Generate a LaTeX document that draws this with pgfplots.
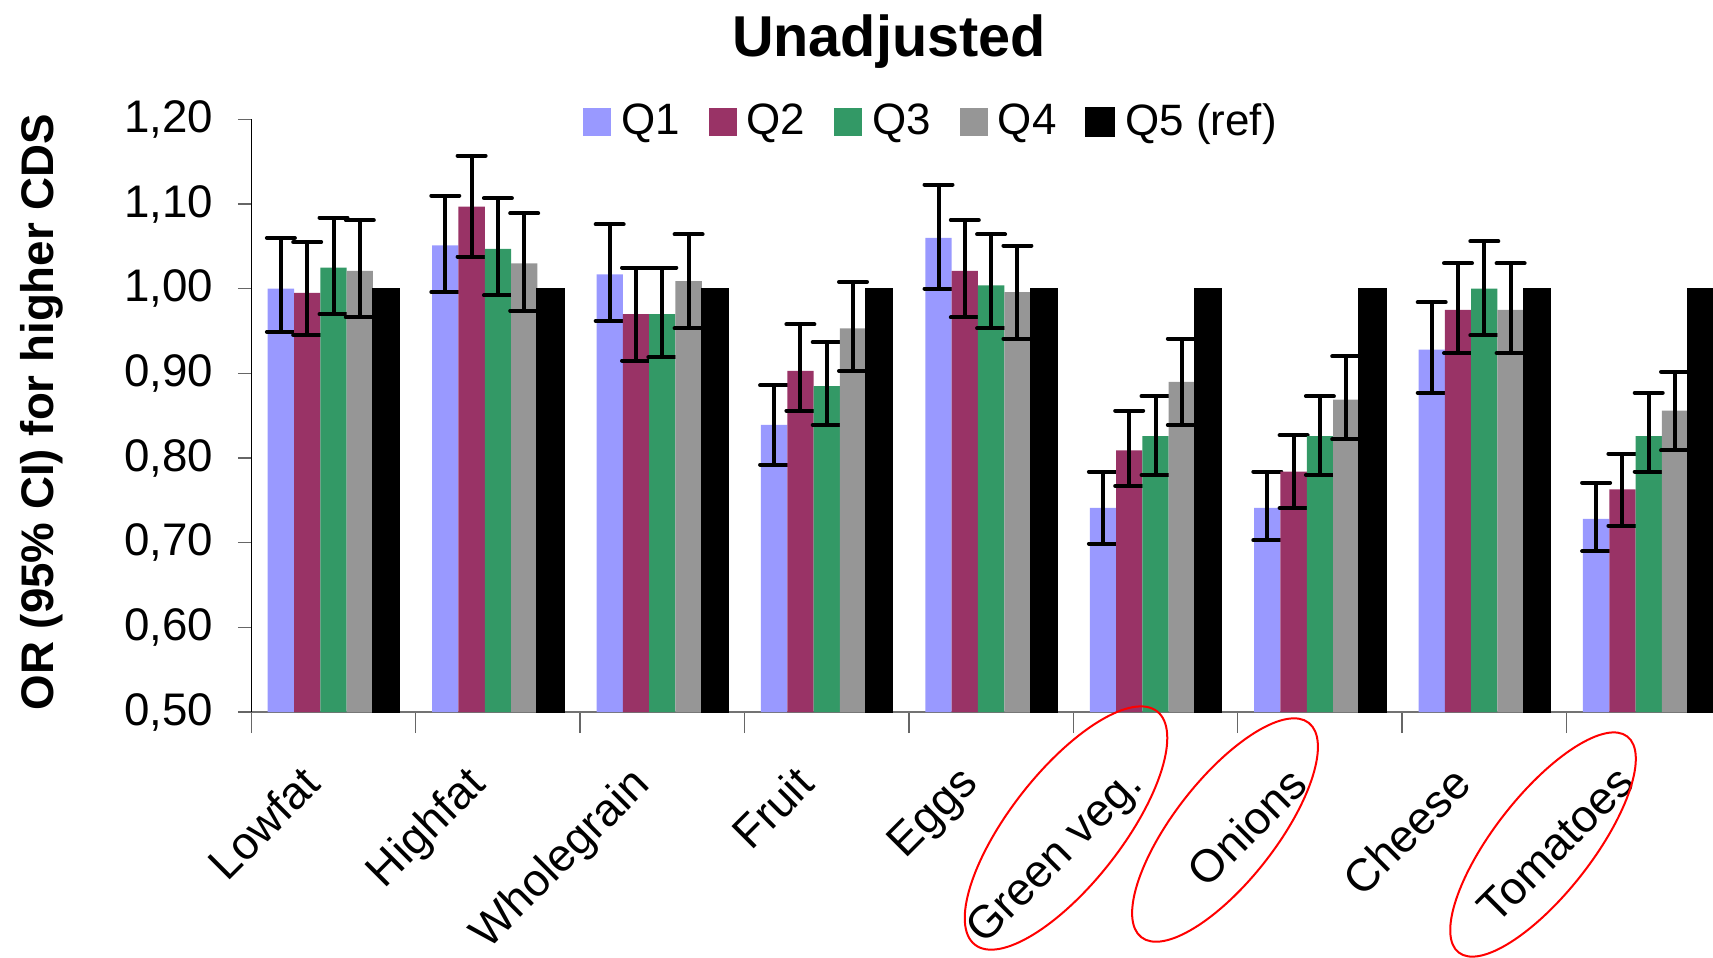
\documentclass[border=0pt]{standalone}
\usepackage{pgfplots}
\usepackage{pgfplotstable}
\pgfplotsset{compat=1.18}
\usepackage{fontspec}
\setmainfont{Liberation Sans}
\definecolor{cQ1}{HTML}{9999FF}
\definecolor{cQ2}{HTML}{993366}
\definecolor{cQ3}{HTML}{339966}
\definecolor{cQ4}{HTML}{969696}

% x: 0 Lowfat, 1 Highfat, 2 Wholegrain, 3 Fruit, 4 Eggs, 5 Green veg., 6 Onions, 7 Cheese, 8 Tomatoes
\pgfplotstableread{
x y hi lo
0 1.000 1.060 0.949
1 1.051 1.110 0.996
2 1.017 1.076 0.962
3 0.839 0.886 0.792
4 1.060 1.123 1.000
5 0.741 0.784 0.699
6 0.741 0.784 0.703
7 0.928 0.984 0.877
8 0.728 0.771 0.690
}\qone
\pgfplotstableread{
x y hi lo
0 0.995 1.055 0.945
1 1.097 1.157 1.038
2 0.970 1.025 0.915
3 0.903 0.958 0.856
4 1.021 1.081 0.966
5 0.809 0.856 0.767
6 0.784 0.827 0.741
7 0.975 1.030 0.924
8 0.763 0.805 0.720
}\qtwo
\pgfplotstableread{
x y hi lo
0 1.025 1.084 0.970
1 1.047 1.107 0.992
2 0.970 1.025 0.919
3 0.885 0.937 0.839
4 1.004 1.064 0.953
5 0.826 0.873 0.780
6 0.826 0.873 0.780
7 1.000 1.056 0.945
8 0.826 0.877 0.784
}\qthree
\pgfplotstableread{
x y hi lo
0 1.021 1.081 0.966
1 1.030 1.089 0.974
2 1.009 1.064 0.953
3 0.953 1.008 0.903
4 0.996 1.051 0.941
5 0.890 0.941 0.839
6 0.869 0.920 0.822
7 0.975 1.030 0.924
8 0.856 0.902 0.809
}\qfour
\pgfplotstableread{
x y
0 1.00
1 1.00
2 1.00
3 1.00
4 1.00
5 1.00
6 1.00
7 1.00
8 1.00
}\qfive

\pgfplotsset{
  errs/.style={error bars/.cd, y dir=both, y explicit,
    error bar style={black, line width=0.4mm},
    error mark options={black, rotate=90, line width=0.4mm, line cap=round, mark size=1.4mm}},
}

\begin{document}
\begin{tikzpicture}
\useasboundingbox (0,0) rectangle (171.3mm,-95.7mm);
\begin{axis}[
  at={(25.13mm,-71.2mm)}, anchor=south west,
  scale only axis, width=147.96mm, height=59.27mm,
  xmin=-0.5, xmax=8.5, ymin=0.5, ymax=1.2,
  axis x line=bottom, axis y line=left,
  axis line style={-},
  x axis line style={black!55, line width=0.15mm},
  y axis line style={black, line width=0.13mm},
  ytick={0.5,0.6,0.7,0.8,0.9,1.0,1.1,1.2},
  xtick={0,1,2,3,4,5,6,7,8},
  xticklabels={Lowfat,Highfat,Wholegrain,Fruit,Eggs,Green veg.,Onions,Cheese,Tomatoes},
  minor xtick={-0.5,0.5,1.5,2.5,3.5,4.5,5.5,6.5,7.5,8.5},
  major x tick style={draw=none},
  tick align=outside,
  major tick length=1.35mm, minor tick length=2.1mm,
  tick style={black!60, line width=0.15mm},
  yticklabel style={font=\fontsize{13}{15}\selectfont, inner sep=0pt, anchor=east, xshift=-2.4mm},
  y tick label style={/pgf/number format/.cd, fixed, fixed zerofill, precision=2, use comma, assume math mode=true},
  xticklabel style={font=\fontsize{13}{15}\selectfont, inner sep=0pt, xshift=-3.4mm, yshift=-3.7mm, rotate=45, anchor=north east},
  legend columns=5,
  legend style={draw=none, fill=none, inner sep=0pt, outer sep=0pt,
    at={(0.2242,0.9955)}, anchor=west,
    font=\fontsize{12.5}{15}\selectfont,
    nodes={inner sep=0pt},
    cells={anchor=west},
    /tikz/every odd column/.append style={column sep=1mm},
    /tikz/every even column/.append style={column sep=2.9mm}},
  legend image code/.code={\fill[#1] (0mm,-1.4mm) rectangle (2.8mm,1.4mm);},
]
\addplot[ybar, bar width=0.16, bar shift=0, fill=cQ1, draw=none, errs]
  table[x expr=\thisrow{x}-0.32, y=y, y error plus expr=\thisrow{hi}-\thisrow{y}, y error minus expr=\thisrow{y}-\thisrow{lo}] {\qone};
\addplot[ybar, bar width=0.16, bar shift=0, fill=cQ2, draw=none, errs]
  table[x expr=\thisrow{x}-0.16, y=y, y error plus expr=\thisrow{hi}-\thisrow{y}, y error minus expr=\thisrow{y}-\thisrow{lo}] {\qtwo};
\addplot[ybar, bar width=0.16, bar shift=0, fill=cQ3, draw=none, errs]
  table[x=x, y=y, y error plus expr=\thisrow{hi}-\thisrow{y}, y error minus expr=\thisrow{y}-\thisrow{lo}] {\qthree};
\addplot[ybar, bar width=0.16, bar shift=0, fill=cQ4, draw=none, errs]
  table[x expr=\thisrow{x}+0.16, y=y, y error plus expr=\thisrow{hi}-\thisrow{y}, y error minus expr=\thisrow{y}-\thisrow{lo}] {\qfour};
\addplot[ybar, bar width=0.16, bar shift=0, fill=black, draw=black, line width=0.2mm]
  table[x expr=\thisrow{x}+0.32, y=y] {\qfive};
\legend{Q1,Q2,Q3,Q4,Q5 (ref)}
\end{axis}
\node[font=\bfseries\fontsize{16.4}{19}\selectfont, anchor=base] at (88.9mm,-5.68mm) {Unadjusted};
\node[font=\bfseries\fontsize{13}{15}\selectfont, rotate=90, anchor=base] at (5.3mm,-41.2mm) {OR (95\% CI) for higher CDS};
\draw[red, line width=0.2mm, rotate around={52:(106.6mm,-82.8mm)}] (106.6mm,-82.8mm) ellipse [x radius=14.8mm, y radius=5.6mm];
\draw[red, line width=0.2mm, rotate around={52:(122.5mm,-83.0mm)}] (122.5mm,-83.0mm) ellipse [x radius=13.6mm, y radius=5.1mm];
\draw[red, line width=0.2mm, rotate around={52:(154.3mm,-84.45mm)}] (154.3mm,-84.45mm) ellipse [x radius=13.7mm, y radius=4.9mm];
\end{tikzpicture}
\end{document}
